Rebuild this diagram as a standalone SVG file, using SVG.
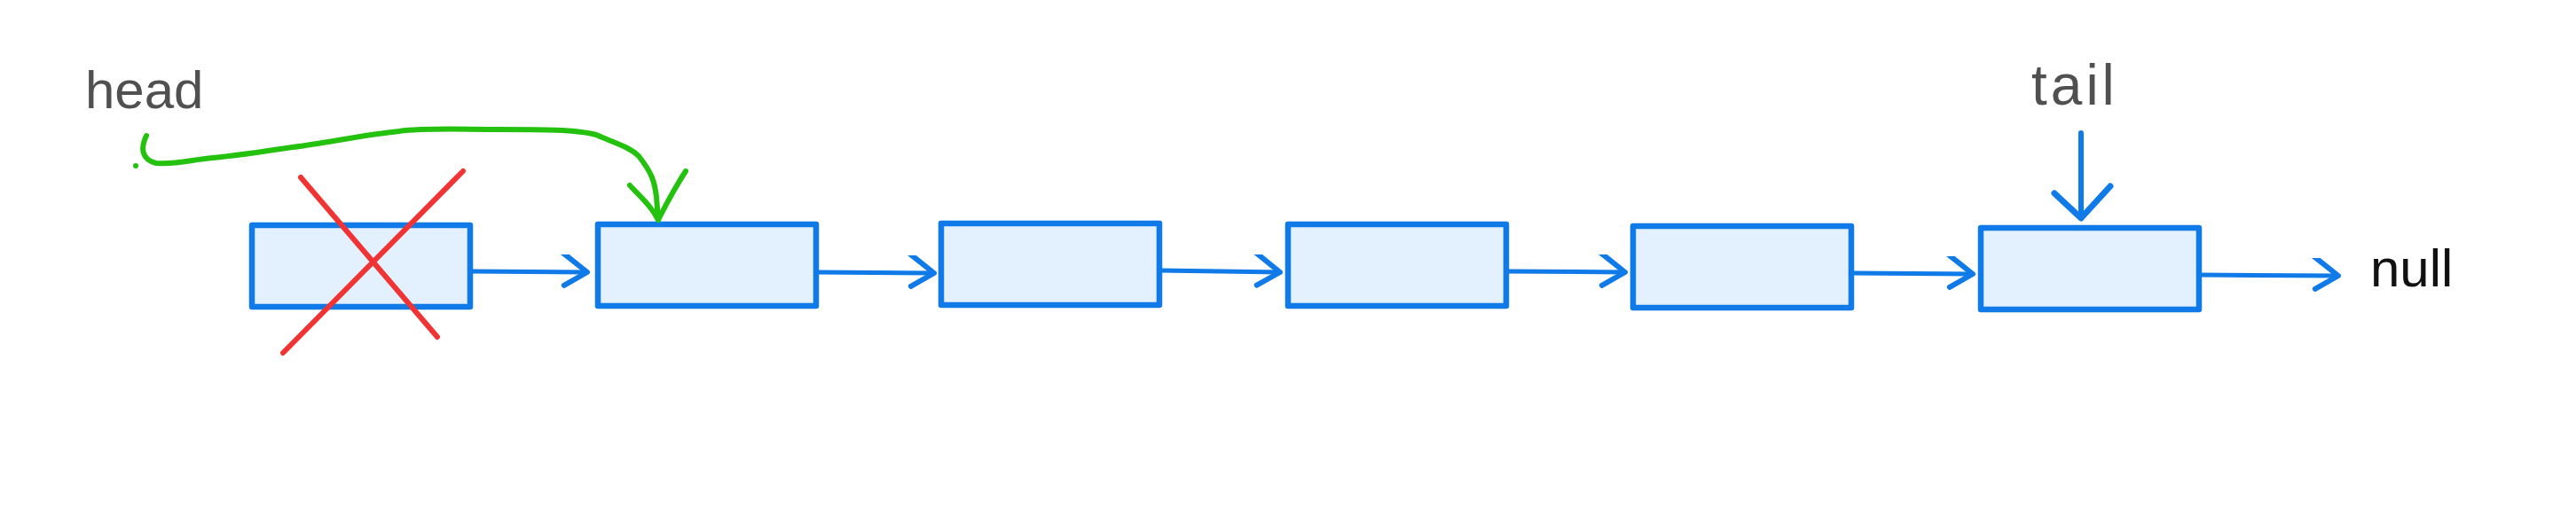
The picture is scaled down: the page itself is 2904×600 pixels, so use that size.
<svg xmlns="http://www.w3.org/2000/svg" width="2904" height="600" viewBox="0 0 2904 600">
<style>
.box{fill:#e3f0fd;stroke:#0f7ae8;stroke-width:6.5;stroke-linejoin:round}
.link{fill:none;stroke:#0f7ae8;stroke-width:5;stroke-linecap:round}
.lbl{font-family:"Liberation Sans",Arial,sans-serif;font-size:60px;fill:#505050}
</style>
<defs>
<marker id="chev" markerUnits="userSpaceOnUse" markerWidth="40" markerHeight="40" viewBox="-30 -20 40 40" refX="0" refY="0" orient="auto">
<path d="M-28,-22 L0,0 L-26,15" fill="none" stroke="#0f7ae8" stroke-width="6" stroke-linecap="round" stroke-linejoin="round"/>
</marker>
</defs>
<rect width="2904" height="600" fill="#fff"/>
<g id="n1"><rect class="box" x="284" y="254" width="246" height="92"/></g>
<g id="n2"><rect class="box" x="674" y="253" width="246" height="92"/></g>
<g id="n3"><rect class="box" x="1061" y="252" width="246" height="92"/></g>
<g id="n4"><rect class="box" x="1452" y="253" width="246" height="92"/></g>
<g id="n5"><rect class="box" x="1841" y="255" width="246" height="92"/></g>
<g id="n6"><rect class="box" x="2233" y="257" width="246" height="92"/></g>
<g id="cross">
<path d="M339,200 L493,380" stroke="#f03333" stroke-width="6" stroke-linecap="round"/>
<path d="M522,193 L319,398" stroke="#f03333" stroke-width="6" stroke-linecap="round"/>
</g>
<g id="labels">
<text class="lbl" x="96" y="122">head</text>
<text class="lbl" x="2290" y="118" style="font-size:64px;letter-spacing:4px">tail</text>
<text class="lbl" x="2672" y="323" style="fill:#111">null</text>
</g>
<g id="connectors">
<path class="link" d="M530,306 L662,307" marker-end="url(#chev)"/>
<path class="link" d="M920,307 L1053,308" marker-end="url(#chev)"/>
<path class="link" d="M1307,305 L1443,307" marker-end="url(#chev)"/>
<path class="link" d="M1698,306 L1832,307" marker-end="url(#chev)"/>
<path class="link" d="M2087,308 L2224,309" marker-end="url(#chev)"/>
<path class="link" d="M2479,310 L2636,311" marker-end="url(#chev)"/>
<path class="link" d="M2346,150 L2346,246" style="stroke-width:6"/>
<path d="M2316,218 L2346,246 L2379,210" fill="none" stroke="#0f7ae8" stroke-width="7" stroke-linecap="round" stroke-linejoin="round"/>
<path d="M165,153 C158,168 160,180 176,184 C200,186 215,180 240,178 C280,174 300,170 330,166 C370,161 410,152 450,148 C480,144 520,146 560,146 C610,146 650,146 672,152 C695,162 710,166 720,176 C735,195 738,205 740,222 L742,248" fill="none" stroke="#24c20f" stroke-width="6" stroke-linecap="round"/>
<path d="M710,209 C722,222 734,232 742,248 C752,228 762,210 773,193" fill="none" stroke="#24c20f" stroke-width="6" stroke-linecap="round" stroke-linejoin="round"/>
<circle cx="153" cy="187" r="3" fill="#24c20f"/>
</g>
</svg>
